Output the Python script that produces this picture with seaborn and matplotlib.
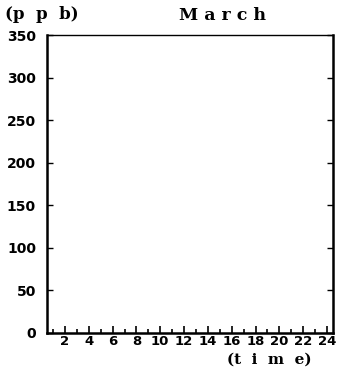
import matplotlib
matplotlib.use("Agg")
import matplotlib.pyplot as plt
import seaborn as sns
import numpy as np
import pandas as pd

# Data (the reference panel is empty: no measured series drawn)
hours = []
ppb = []
x_tick_values = [2, 4, 6, 8, 10, 12, 14, 16, 18, 20, 22, 24]
x_tick_labels = ["2", "4", "6", "8", "10", "12", "14", "16", "18", "20", "22", "24"]
y_tick_values = [0, 50, 100, 150, 200, 250, 300, 350]
title = "M a r c h"
y_unit = "(p  p  b)"
x_unit = "(t  i  m  e)"

sns.set_style("ticks")
plt.rcParams['font.family'] = ['DejaVu Sans']
plt.rcParams['text.color'] = 'black'
plt.rcParams['xtick.color'] = 'black'
plt.rcParams['ytick.color'] = 'black'

fig = plt.figure(figsize=(3.39, 3.70), dpi=100)
ax = fig.add_axes([0.139, 0.1, 0.843, 0.805])

df = pd.DataFrame({"time": pd.Series(hours, dtype=float), "ppb": pd.Series(ppb, dtype=float)})
if len(df):
    sns.lineplot(data=df, x="time", y="ppb", ax=ax, color="black")

ax.set_xlim(0.5, 24.5)
ax.set_ylim(0, 350)
ax.set_xticks(x_tick_values)
ax.set_xticklabels(x_tick_labels, fontsize=9.5, fontweight="bold", color="black")
ax.set_xticks(np.arange(1, 25, 1), minor=True)
ax.set_yticks(y_tick_values)
ax.set_yticklabels([str(v) for v in y_tick_values], fontsize=10, fontweight="bold", color="black")
ax.set_xlabel("")
ax.set_ylabel("")

ax.tick_params(axis="x", which="major", direction="in", length=5, width=1.2, pad=1.5, top=False, colors="black")
ax.tick_params(axis="x", which="minor", direction="in", length=3, width=1.2, top=False, colors="black")
ax.tick_params(axis="y", which="major", direction="in", length=4, width=1, pad=8, right=True, colors="black")

for side in ["left", "bottom", "right"]:
    ax.spines[side].set_linewidth(1.8)
    ax.spines[side].set_color("black")
ax.spines["top"].set_linewidth(1.0)
ax.spines["top"].set_color("black")

fig.text(0.015, 0.962, y_unit, fontsize=12, fontweight="bold", family="DejaVu Serif", ha="left", va="center", color="black")
fig.text(0.655, 0.958, title, fontsize=12.5, fontweight="bold", family="DejaVu Serif", ha="center", va="center", color="black")
fig.text(0.795, 0.028, x_unit, fontsize=11, fontweight="bold", family="DejaVu Serif", ha="center", va="center", color="black")

fig.savefig("out.png", dpi=100, facecolor="white")
